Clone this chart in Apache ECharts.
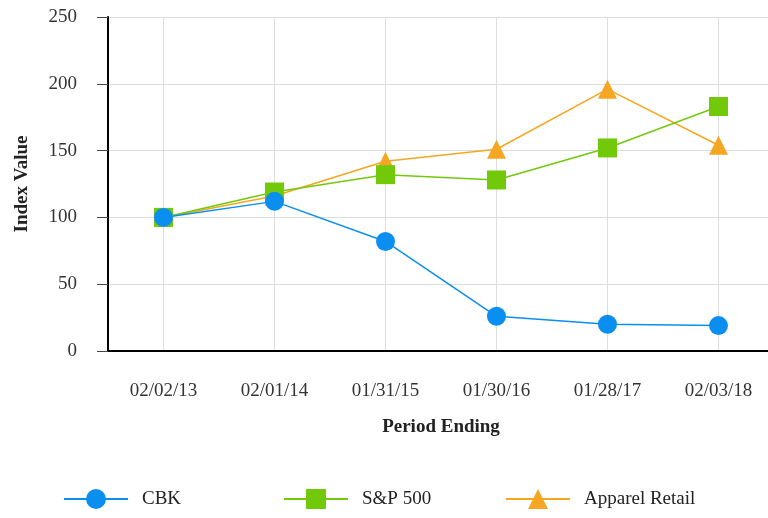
<!DOCTYPE html>
<html>
<head>
<meta charset="utf-8">
<script src="https://cdn.jsdelivr.net/npm/echarts@6/dist/echarts.min.js"></script>
<style>
  html, body { margin: 0; padding: 0; background: #fff; overflow: hidden; }
  /* the plot runs slightly past the right edge of the window in the original */
  #main { width: 774px; height: 518px; }
</style>
</head>
<body>
<div id="main"></div>
<script>
const periods = ['02/02/13', '02/01/14', '01/31/15', '01/30/16', '01/28/17', '02/03/18'];
const cbk = [100, 112, 82, 26, 20, 19];
const sp500 = [100, 119, 132, 128, 152, 183];
const apparel = [100, 116, 142, 151, 196, 154];
const names = ['CBK', 'S&P 500', 'Apparel Retail'];

const font = '"Liberation Serif", "Times New Roman", serif';

function makeLine(name, data, color, symbol, size) {
    return {
        name: name,
        type: 'line',
        data: data,
        symbol: symbol,
        symbolSize: size,
        lineStyle: { color: color, width: 1.5 },
        itemStyle: { color: color },
        emphasis: { disabled: true }
    };
}

function makeLegend(name, left) {
    return {
        left: left,
        top: 489,
        padding: 0,
        itemWidth: 64,
        itemHeight: 25,
        textStyle: { fontFamily: font, fontSize: 19, color: '#222', padding: [0, 0, 0, 9] },
        data: [name]
    };
}

const chart = echarts.init(document.getElementById('main'));
chart.setOption({
    animation: false,
    textStyle: { fontFamily: font },
    grid: { left: 108, right: 0, top: 17, bottom: 167 },
    legend: [
        makeLegend(names[0], 63),
        makeLegend(names[1], 283),
        makeLegend(names[2], 505)
    ],
    xAxis: {
        type: 'category',
        data: periods,
        boundaryGap: true,
        name: 'Period Ending',
        nameLocation: 'middle',
        nameGap: 67,
        nameTextStyle: { fontFamily: font, fontSize: 19, fontWeight: 'bold', color: '#222' },
        axisLine: { lineStyle: { color: '#000', width: 2 } },
        axisTick: { alignWithLabel: true, length: 8, lineStyle: { color: '#444' } },
        axisLabel: { fontFamily: font, fontSize: 19, color: '#333', margin: 31 },
        splitLine: { show: true, alignWithLabel: true, lineStyle: { color: '#ddd' } }
    },
    yAxis: {
        type: 'value',
        min: 0,
        max: 250,
        interval: 50,
        name: 'Index Value',
        nameLocation: 'middle',
        nameGap: 76,
        nameTextStyle: { fontFamily: font, fontSize: 19, fontWeight: 'bold', color: '#222' },
        axisLine: { show: true, lineStyle: { color: '#000', width: 2 } },
        axisTick: { show: true, length: 11, lineStyle: { color: '#444' } },
        axisLabel: { fontFamily: font, fontSize: 19, color: '#333', margin: 31 },
        splitLine: { show: true, lineStyle: { color: '#ddd' } }
    },
    // drawn back to front so CBK sits on top, as in the original
    series: [
        makeLine(names[2], apparel, '#f5a623', 'triangle', 19),
        makeLine(names[1], sp500, '#72c90a', 'rect', 19),
        makeLine(names[0], cbk, '#0a8ff0', 'circle', 19)
    ]
});
</script>
</body>
</html>
